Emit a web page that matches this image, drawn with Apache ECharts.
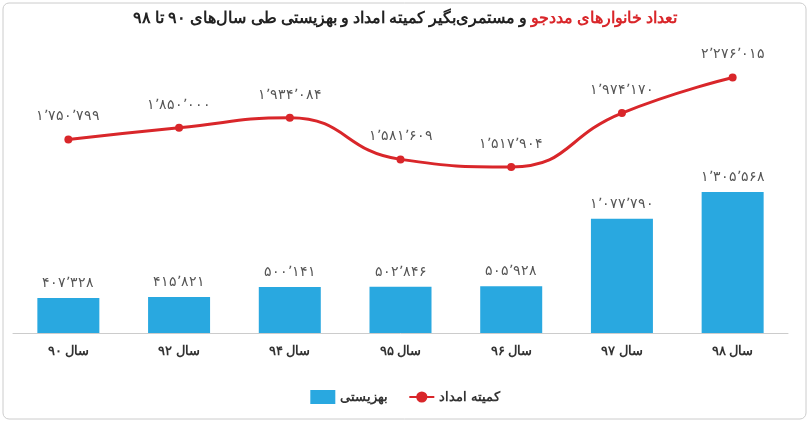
<!DOCTYPE html>
<html><head><meta charset="utf-8">
<script src="https://cdn.jsdelivr.net/npm/echarts@6/dist/echarts.min.js"></script>
<style>html,body{margin:0;padding:0;background:#fff}#c{width:810px;height:423px}</style>
</head><body><div id="c"></div>
<script>
const categories = ['سال ۹۰','سال ۹۲','سال ۹۴','سال ۹۵','سال ۹۶','سال ۹۷','سال ۹۸'];
const behzisti = [407328, 415821, 500141, 502846, 505928, 1077790, 1305568];
const komite = [1750799, 1850000, 1934084, 1581609, 1517904, 1974170, 2276015];
function fa(v){
  const s = String(v).replace(/\B(?=(\d{3})+(?!\d))/g, '٬');
  return s.replace(/\d/g, d => '۰۱۲۳۴۵۶۷۸۹'[d]);
}
const chart = echarts.init(document.getElementById('c'));
chart.setOption({
  animation:false,
  graphic:[
    {type:'rect',shape:{x:3,y:3,width:803,height:416,r:6},style:{fill:'none',stroke:'#ccc',lineWidth:1}},
    {type:'text',left:'center',top:10,style:{rich:{r:{fill:'#d9262a',fontSize:16,fontWeight:'bold',fontFamily:'Noto Sans'},k:{fill:'#222',fontSize:16,fontWeight:'bold',fontFamily:'Noto Sans'}},
      text:'{k|و مستمری‌بگیر کمیته امداد و بهزیستی طی سال‌های ۹۰ تا ۹۸} {r|تعداد خانوارهای مددجو}'}}
  ],
  grid:{left:13,right:22,top:60,bottom:90},
  legend:{bottom:14,left:'center',itemGap:20,textStyle:{fontFamily:'Noto Sans',fontSize:13,fontWeight:'bold',color:'#333'},
    data:[{name:'بهزیستی',icon:'rect'},{name:'کمیته امداد'}]},
  xAxis:{type:'category',data:categories,axisTick:{show:false},axisLine:{lineStyle:{color:'#ccc'}},
    axisLabel:{margin:12,fontFamily:'Noto Sans',fontSize:13,fontWeight:'bold',color:'#333'}},
  yAxis:{type:'value',min:110000,max:2424000,show:false,splitLine:{show:false}},
  series:[
    {name:'بهزیستی',type:'bar',data:behzisti,barWidth:62,itemStyle:{color:'#29a8e0'},
      label:{show:true,position:'top',distance:8,formatter:p=>fa(p.value),color:'#555',fontSize:14,fontFamily:'Noto Sans'}},
    {name:'کمیته امداد',type:'line',data:komite,smooth:true,symbol:'circle',symbolSize:8,
      itemStyle:{color:'#d9262a'},lineStyle:{color:'#d9262a',width:3},
      label:{show:true,position:'top',distance:12,formatter:p=>fa(p.value),color:'#555',fontSize:14,fontFamily:'Noto Sans'}}
  ]
});
</script></body></html>
